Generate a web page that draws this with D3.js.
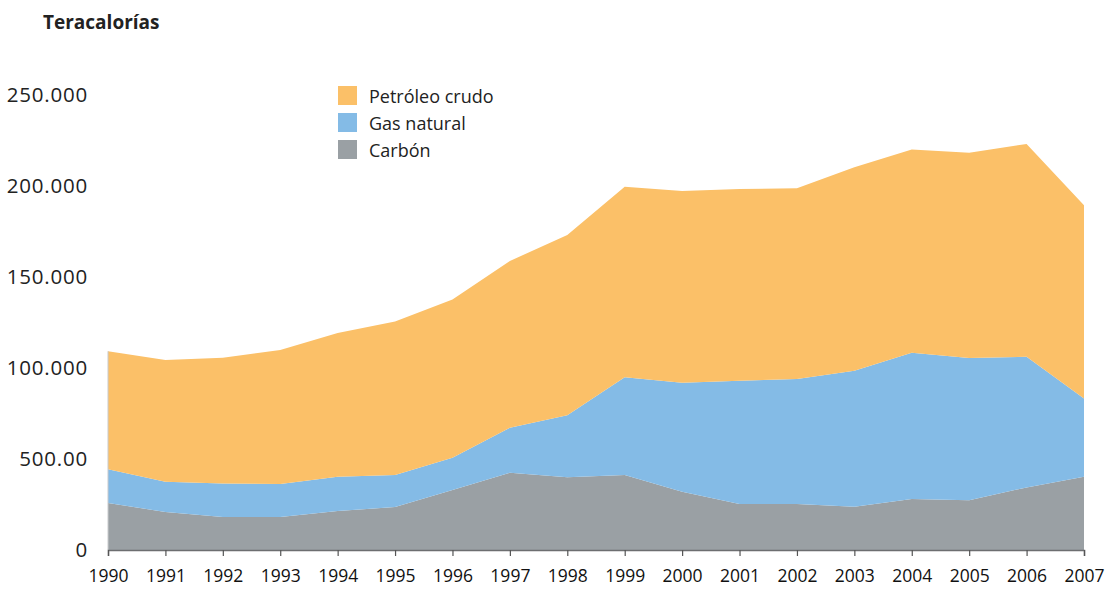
<!DOCTYPE html>
<html lang="es">
<head>
<meta charset="utf-8">
<script src="https://cdn.jsdelivr.net/npm/d3@7"></script>
<style>
  html, body { margin: 0; padding: 0; background: #fff; }
  svg { display: block; font-family: "Open Sans", "Noto Sans", sans-serif; }
</style>
</head>
<body>
<svg id="chart" width="1109" height="589"></svg>
<script>
// Primary energy supply by source, in teracalories
const years = [1990, 1991, 1992, 1993, 1994, 1995, 1996, 1997, 1998, 1999,
               2000, 2001, 2002, 2003, 2004, 2005, 2006, 2007];
const carbon = [25800, 20900, 18100, 18100, 21400, 23600, 33000, 42500, 40000, 41200,
                32000, 25300, 25300, 23800, 28000, 27300, 34400, 40300];
const gasNatural = [18500, 16600, 18500, 18200, 18900, 17600, 17700, 24700, 34000, 53700,
                    59900, 67700, 68700, 74700, 80400, 78200, 71800, 43000];
const petroleo = [64900, 66900, 69100, 73600, 78900, 84300, 87000, 91600, 99100, 104700,
                  105400, 105400, 104700, 111800, 111700, 112800, 116900, 106100];
const yTickValues = [0, 50000, 100000, 150000, 200000, 250000];
const yTickLabels = ["0", "500.00", "100.000", "150.000", "200.000", "250.000"];
const seriesNames = ["Carbón", "Gas natural", "Petróleo crudo"];
const seriesColors = ["#9aa0a4", "#84bbe6", "#fbc068"];

const svg = d3.select("#chart");
const margin = { left: 108, right: 25, top: 95, bottom: 39 };
const W = 1109, H = 589;

const x = d3.scaleLinear()
  .domain([years[0], years[years.length - 1]])
  .range([margin.left, W - margin.right]);
const y = d3.scaleLinear()
  .domain([0, 250000])
  .range([H - margin.bottom, margin.top]);

const table = years.map((yr, i) => ({
  year: yr,
  "Carbón": carbon[i],
  "Gas natural": gasNatural[i],
  "Petróleo crudo": petroleo[i]
}));
const stacked = d3.stack().keys(seriesNames)(table);

const area = d3.area()
  .x(d => x(d.data.year))
  .y0(d => y(d[0]))
  .y1(d => y(d[1]));

svg.append("g")
  .selectAll("path")
  .data(stacked)
  .join("path")
  .attr("d", area)
  .attr("fill", (d, i) => seriesColors[i]);

// Left edge line
svg.append("line")
  .attr("x1", x(years[0])).attr("x2", x(years[0]))
  .attr("y1", y(0)).attr("y2", y(petroleo[0] + gasNatural[0] + carbon[0]))
  .attr("stroke", "#c8cacc").attr("stroke-width", 1);

// X axis
const xAxis = d3.axisBottom(x)
  .tickValues(years)
  .tickFormat(d3.format("d"))
  .tickSize(6)
  .tickPadding(14);
const gx = svg.append("g")
  .attr("transform", `translate(0,${y(0)})`)
  .call(xAxis);
gx.select(".domain").attr("stroke", "#6d6e70").attr("stroke-width", 1.5);
gx.selectAll(".tick line").attr("stroke", "#555").attr("stroke-width", 1.2);
gx.selectAll(".tick text")
  .attr("font-size", 17.5)
  .attr("fill", "#111")
  .attr("font-family", "\"Open Sans\", sans-serif");

// Y axis labels (no line)
const yAxis = d3.axisLeft(y)
  .tickValues(yTickValues)
  .tickFormat(d => yTickLabels[yTickValues.indexOf(d)])
  .tickSize(0)
  .tickPadding(20);
const gy = svg.append("g")
  .attr("transform", `translate(${margin.left},0)`)
  .call(yAxis);
gy.select(".domain").remove();
gy.selectAll(".tick text")
  .attr("font-size", 20.5)
  .attr("letter-spacing", 0.8)
  .attr("fill", "#222")
  .attr("font-family", "\"Open Sans\", sans-serif");

// Unit title
svg.append("text")
  .attr("x", 43).attr("y", 29)
  .attr("font-size", 19)
  .attr("font-weight", "bold")
  .attr("fill", "#222")
  .text("Teracalorías");

// Legend
const legendOrder = [2, 1, 0];
const lg = svg.append("g").attr("transform", "translate(338,86)");
legendOrder.forEach((si, row) => {
  const g = lg.append("g").attr("transform", `translate(0,${row * 27})`);
  g.append("rect").attr("width", 19).attr("height", 19).attr("fill", seriesColors[si]);
  g.append("text")
    .attr("x", 31).attr("y", 11)
    .attr("dy", "0.35em")
    .attr("font-size", 18)
    .attr("fill", "#222")
    .text(seriesNames[si]);
});
</script>
</body>
</html>
